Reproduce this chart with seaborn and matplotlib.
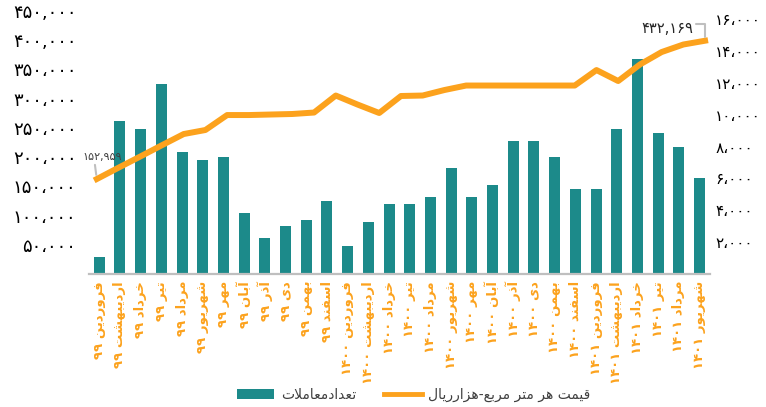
import re
import numpy as np
import pandas as pd
import matplotlib
matplotlib.use("Agg")
import matplotlib.pyplot as plt
import seaborn as sns
from matplotlib.patches import Patch
from matplotlib.lines import Line2D

# داده ها
month_names = ['فروردین', 'اردیبهشت', 'خرداد', 'تیر', 'مرداد', 'شهریور',
               'مهر', 'آبان', 'آذر', 'دی', 'بهمن', 'اسفند']
years = ['۹۹'] * 12 + ['۱۴۰۰'] * 12 + ['۱۴۰۱'] * 6
months = [month_names[i % 12] for i in range(30)]

deals = [1090, 9600, 9100, 11920, 7675, 7150, 7360, 3850, 2280, 3010, 3390, 4580,
         1760, 3260, 4390, 4390, 4830, 6650, 4830, 5585, 8345, 8345, 7340, 5330,
         5330, 9100, 13490, 8850, 7970, 6020]

price = [162500, 181900, 201000, 220400, 239500, 246400, 272000, 272000, 272900,
         273800, 276300, 305400, 290000, 275500, 304600, 305400, 314800, 322500,
         322500, 322500, 322500, 322500, 322500, 349000, 330200, 358500, 379800,
         392700, 399200]
end_labels = ['۱۵۲,۹۵۹', '۴۳۲,۱۶۹']

left_ticks = [50000, 100000, 150000, 200000, 250000, 300000, 350000, 400000, 450000]
left_labels = ['۵۰،۰۰۰', '۱۰۰،۰۰۰', '۱۵۰،۰۰۰', '۲۰۰،۰۰۰', '۲۵۰،۰۰۰', '۳۰۰،۰۰۰',
               '۳۵۰،۰۰۰', '۴۰۰,۰۰۰', '۴۵۰,۰۰۰']
right_ticks = [2000, 4000, 6000, 8000, 10000, 12000, 14000, 16000]
right_labels = ['۲،۰۰۰', '۴،۰۰۰', '۶،۰۰۰', '۸،۰۰۰', '۱۰،۰۰۰', '۱۲،۰۰۰', '۱۴،۰۰۰', '۱۶،۰۰۰']

deals_name = 'تعدادمعاملات'
price_name = 'قیمت هر متر مربع-هزارریال'

# شکل دهی حروف فارسی (matplotlib خودش اتصال حروف را انجام نمی دهد)
FORMS = {
    'ا': ('\uFE8D', '\uFE8E'), 'آ': ('\uFE81', '\uFE82'),
    'ب': ('\uFE8F', '\uFE90', '\uFE91', '\uFE92'), 'ت': ('\uFE95', '\uFE96', '\uFE97', '\uFE98'),
    'خ': ('\uFEA5', '\uFEA6', '\uFEA7', '\uFEA8'), 'د': ('\uFEA9', '\uFEAA'),
    'ذ': ('\uFEAB', '\uFEAC'), 'ر': ('\uFEAD', '\uFEAE'), 'ز': ('\uFEAF', '\uFEB0'),
    'س': ('\uFEB1', '\uFEB2', '\uFEB3', '\uFEB4'), 'ش': ('\uFEB5', '\uFEB6', '\uFEB7', '\uFEB8'),
    'ع': ('\uFEC9', '\uFECA', '\uFECB', '\uFECC'), 'ف': ('\uFED1', '\uFED2', '\uFED3', '\uFED4'),
    'ق': ('\uFED5', '\uFED6', '\uFED7', '\uFED8'), 'ل': ('\uFEDD', '\uFEDE', '\uFEDF', '\uFEE0'),
    'م': ('\uFEE1', '\uFEE2', '\uFEE3', '\uFEE4'), 'ن': ('\uFEE5', '\uFEE6', '\uFEE7', '\uFEE8'),
    'ه': ('\uFEE9', '\uFEEA', '\uFEEB', '\uFEEC'), 'و': ('\uFEED', '\uFEEE'),
    'ی': ('\uFEEF', '\uFEF0', '\uFEF3', '\uFEF4'),
}
LAM_ALEF = {'ا': ('\uFEFB', '\uFEFC'), 'آ': ('\uFEF5', '\uFEF6')}
DIGITS = '۰۱۲۳۴۵۶۷۸۹'


def joins_left(c):
    return c in FORMS and len(FORMS[c]) == 4


def shape(text):
    out = []
    i = 0
    while i < len(text):
        c = text[i]
        if c not in FORMS:
            out.append(c)
            i += 1
            continue
        prev_join = i > 0 and joins_left(text[i - 1])
        if c == 'ل' and i + 1 < len(text) and text[i + 1] in LAM_ALEF:
            out.append(LAM_ALEF[text[i + 1]][1 if prev_join else 0])
            i += 2
            continue
        next_join = joins_left(c) and i + 1 < len(text) and text[i + 1] in FORMS
        f = FORMS[c]
        if prev_join and next_join:
            out.append(f[3])
        elif prev_join:
            out.append(f[1])
        elif next_join:
            out.append(f[2])
        else:
            out.append(f[0])
        i += 1
    return ''.join(out)


def fa(text):
    runs = re.findall('[' + DIGITS + ',،]+|[^' + DIGITS + ',،]+', shape(text))
    return ''.join(r if r[0] in DIGITS else r[::-1] for r in reversed(runs))


teal = '#1C8A8A'
orange = '#FCA21D'

df = pd.DataFrame({'month': [fa(m + ' ' + y) for m, y in zip(months, years)], 'deals': deals})

fig = plt.figure(figsize=(7.66, 4.07), dpi=100)
ax = fig.add_axes([0.1161, 0.3268, 0.8106, 0.6609])
sns.barplot(data=df, x='month', y='deals', color=teal, width=0.53, saturation=1, ax=ax)
ax2 = ax.twinx()

# محور تعداد معاملات (راست)
ax.set_xlim(-0.5, 29.5)
ax.set_ylim(0, 16880)
ax.yaxis.tick_right()
ax.set_yticks(right_ticks)
ax.set_yticklabels([fa(t) for t in right_labels], fontsize=11)
ax.set_xticks(range(30))
ax.set_xticklabels(df['month'], rotation=90, ha='center', va='top',
                   fontsize=9.5, fontweight='bold', color=orange)
ax.tick_params(axis='both', length=0)
ax.tick_params(axis='y', pad=4)
ax.tick_params(axis='x', pad=5)
ax.set_xlabel('')
ax.set_ylabel('')
for s in ['top', 'left', 'right']:
    ax.spines[s].set_visible(False)
ax.spines['bottom'].set_color('#BFBFBF')
ax.spines['bottom'].set_linewidth(1.6)

# محور قیمت (چپ)
line_x = np.linspace(-0.12, 29.27, len(price))
sns.lineplot(x=line_x, y=price, color=orange, linewidth=4.3, ax=ax2, solid_joinstyle='round')
ax2.set_ylim(0, 460300)
ax2.yaxis.tick_left()
ax2.set_yticks(left_ticks)
ax2.set_yticklabels([fa(t) for t in left_labels], fontsize=13)
ax2.tick_params(axis='y', length=0, pad=9)
for s in ax2.spines.values():
    s.set_visible(False)

ax2.annotate(fa(end_labels[0]), xy=(line_x[0], price[0]), xytext=(3.8, 15.8),
             textcoords='offset points', ha='center', va='center', fontsize=8, color='#404040',
             arrowprops=dict(arrowstyle='-', color='#BFBFBF', lw=1.5, shrinkA=0, shrinkB=3,
                             relpos=(0.31, 0)))
ax2.annotate(fa(end_labels[1]), xy=(line_x[-1], price[-1]), xytext=(-27.4, 9.1),
             textcoords='offset points', ha='center', va='center', fontsize=10.5, color='#262626',
             arrowprops=dict(arrowstyle='-', color='#BFBFBF', lw=1.5, shrinkA=0, shrinkB=3,
                             relpos=(1, 0.75),
                             connectionstyle='angle,angleA=0,angleB=90,rad=0'))

handles = [Patch(facecolor=teal), Line2D([], [], color=orange, lw=3.5)]
fig.legend(handles, [fa(deals_name), fa(price_name)], ncol=2, loc='center',
           bbox_to_anchor=(0.54, 0.03), frameon=False, fontsize=10, labelcolor='#404040',
           handlelength=2.7, handleheight=0.7, columnspacing=2.0, handletextpad=0.5)

fig.savefig('out.png', dpi=100)
